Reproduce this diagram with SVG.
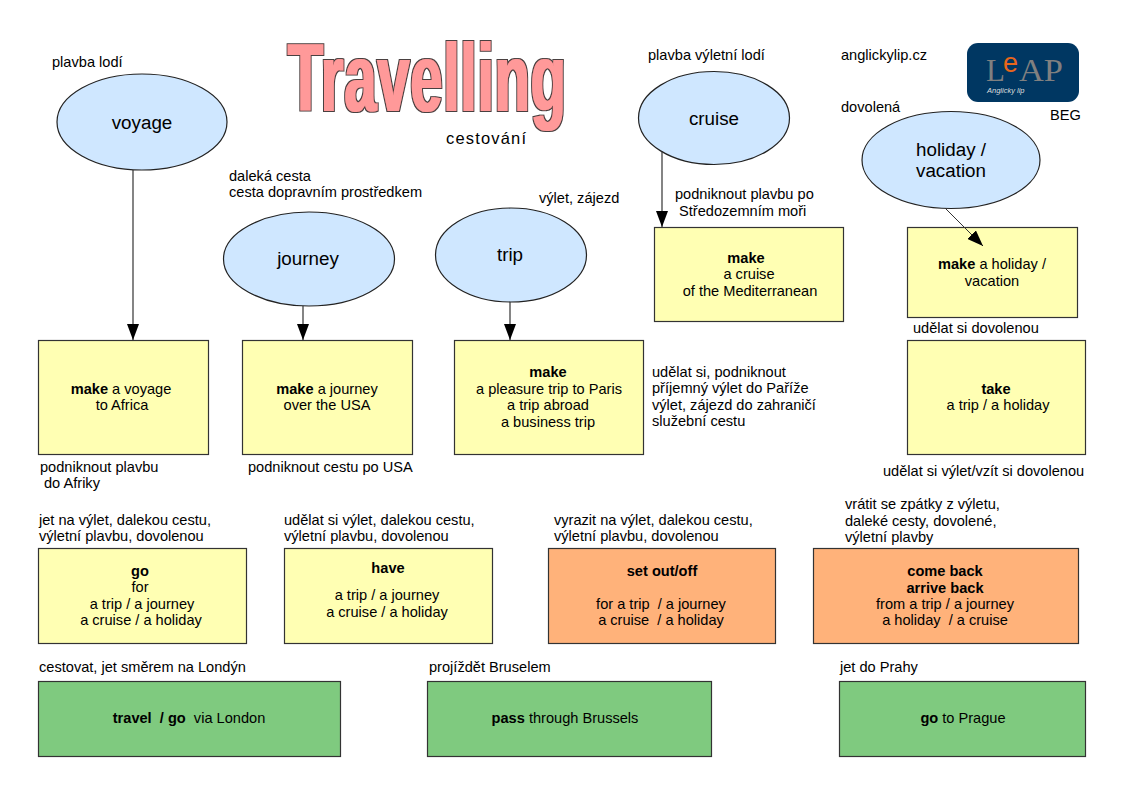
<svg xmlns="http://www.w3.org/2000/svg" width="1123" height="794" viewBox="0 0 1123 794">
<style>
text{font-family:"Liberation Sans",Arial,sans-serif;font-size:14.6px;fill:#000}
.m{text-anchor:middle}
.b{font-weight:bold}
.e{fill:#cfe7ff;stroke:#222;stroke-width:1.2}
.y{fill:#ffffb3;stroke:#333;stroke-width:1.2}
.o{fill:#ffb27a;stroke:#333;stroke-width:1.2}
.g{fill:#7fca7f;stroke:#333;stroke-width:1.2}
.big{font-size:18.800px}
.c{stroke:#333;stroke-width:1.200;fill:none;marker-end:url(#a)}
.s{font-family:"Liberation Serif",serif;font-size:31px;fill:#808080}
</style>
<defs>
<marker id="a" markerUnits="userSpaceOnUse" markerWidth="16" markerHeight="12" refX="16" refY="6" orient="auto"><path d="M0 0L16 6L0 12Z" fill="#000"/></marker>
<filter id="t" x="-3%" y="-5%" width="106%" height="110%">
<feMorphology in="SourceAlpha" operator="dilate" radius="1.700 1" result="o"/>
<feFlood flood-color="#4a4040"/><feComposite in2="o" operator="in" result="d"/>
<feMorphology in="SourceAlpha" operator="dilate" radius="0.800 0.200" result="i"/>
<feFlood flood-color="#ff9999"/><feComposite in2="i" operator="in" result="p"/>
<feMerge><feMergeNode in="d"/><feMergeNode in="p"/></feMerge>
</filter>
</defs>
<rect width="1123" height="794" fill="#fff"/>
<g id="title">
<text x="288" y="111" font-weight="bold" textLength="279" lengthAdjust="spacingAndGlyphs" filter="url(#t)" style="font-size:96px;letter-spacing:2px;fill:#ff9999">Travelling</text>
<text x="446" y="144" textLength="80" style="font-size:16.500px">cestování</text>
</g>
<g id="logo">
<rect x="967" y="43" width="112" height="59" rx="11" fill="#003762"/>
<text class="s" x="986" y="81">L</text>
<text x="1003" y="72" style="font-size:27px;fill:#e8661c">e</text>
<text class="s" x="1019" y="81" textLength="44" lengthAdjust="spacingAndGlyphs">AP</text>
<text x="987" y="93" style="font-size:7.500px;font-style:italic;fill:#ddd">Anglicky lip</text>
</g>
<g id="voyage"><ellipse class="e" cx="142" cy="122" rx="85" ry="48"/><text class="m big" x="142" y="129">voyage</text></g>
<g id="journey"><ellipse class="e" cx="309" cy="259" rx="85.500" ry="47"/><text class="m big" x="308" y="265">journey</text></g>
<g id="trip"><ellipse class="e" cx="511" cy="255" rx="75.500" ry="47"/><text class="m big" x="510" y="261">trip</text></g>
<g id="cruise"><ellipse class="e" cx="714" cy="118" rx="75.500" ry="46.500"/><text class="m big" x="714" y="125">cruise</text></g>
<g id="holiday"><ellipse class="e" cx="951" cy="160" rx="89" ry="48.500"/><text class="m big" x="951" y="156">holiday /</text><text class="m big" x="951" y="177">vacation</text></g>
<g id="make-voyage"><rect class="y" x="38.500" y="340.500" width="170" height="114"/><text class="m" x="121" y="394"><tspan class="b">make</tspan> a voyage</text><text class="m" x="122" y="410">to Africa</text></g>
<g id="make-journey"><rect class="y" x="242.500" y="340.500" width="170" height="114"/><text class="m" x="327" y="394"><tspan class="b">make</tspan> a journey</text><text class="m" x="327" y="410">over the USA</text></g>
<g id="make-trip"><rect class="y" x="454.500" y="340.500" width="189" height="114"/><text class="m b" x="548" y="377">make</text><text class="m" x="549" y="394">a pleasure trip to Paris</text><text class="m" x="548" y="410">a trip abroad</text><text class="m" x="548" y="427">a business trip</text></g>
<g id="make-cruise"><rect class="y" x="654.500" y="227.500" width="189" height="94"/><text class="m b" x="746" y="263">make</text><text class="m" x="749" y="279">a cruise</text><text class="m" x="750" y="296">of the Mediterranean</text></g>
<g id="make-holiday"><rect class="y" x="907.500" y="227.500" width="170" height="90"/><text class="m" x="992" y="269"><tspan class="b">make</tspan> a holiday /</text><text class="m" x="992" y="286">vacation</text></g>
<g id="take"><rect class="y" x="907.500" y="340.500" width="178" height="114"/><text class="m b" x="996" y="394">take</text><text class="m" x="998" y="410">a trip / a holiday</text></g>
<g id="go"><rect class="y" x="38.500" y="548.500" width="208" height="95"/><text class="m b" x="140" y="576">go</text><text class="m" x="140" y="592">for</text><text class="m" x="142" y="609">a trip / a journey</text><text class="m" x="141" y="625">a cruise / a holiday</text></g>
<g id="have"><rect class="y" x="284.500" y="548.500" width="208" height="95"/><text class="m b" x="388" y="573">have</text><text class="m" x="387" y="600">a trip / a journey</text><text class="m" x="387" y="617">a cruise / a holiday</text></g>
<g id="set-out"><rect class="o" x="548.500" y="548.500" width="227" height="95"/><text class="m b" x="662" y="576">set out/off</text><text class="m" x="661" y="609" xml:space="preserve">for a trip  / a journey</text><text class="m" x="661" y="625" xml:space="preserve">a cruise  / a holiday</text></g>
<g id="come-back"><rect class="o" x="813.500" y="548.500" width="265" height="95"/><text class="m b" x="945" y="576">come back</text><text class="m b" x="945" y="593">arrive back</text><text class="m" x="945" y="609">from a trip / a journey</text><text class="m" x="945" y="625" xml:space="preserve">a holiday  / a cruise</text></g>
<g id="travel"><rect class="g" x="38.500" y="681.500" width="302" height="75"/><text class="m" x="189" y="723" xml:space="preserve"><tspan class="b">travel  / go</tspan>  via London</text></g>
<g id="pass"><rect class="g" x="427.500" y="681.500" width="284" height="75"/><text class="m" x="565" y="723"><tspan class="b">pass</tspan> through Brussels</text></g>
<g id="go-prague"><rect class="g" x="839.500" y="681.500" width="246" height="75"/><text class="m" x="963" y="723"><tspan class="b">go</tspan> to Prague</text></g>
<g id="connectors">
<path class="c" d="M133 170V340"/>
<path class="c" d="M303 306V340"/>
<path class="c" d="M510 302V340"/>
<path class="c" d="M662 151V227"/>
<path class="c" style="stroke-width:1" d="M945 208L983 246"/>
</g>
<g id="labels">
<text x="52" y="67">plavba lodí</text>
<text x="648" y="60">plavba výletní lodí</text>
<text x="841" y="60">anglickylip.cz</text>
<text x="841" y="112">dovolená</text>
<text x="1050" y="120">BEG</text>
<text x="229" y="181">daleká cesta</text>
<text x="229" y="197">cesta dopravním prostředkem</text>
<text x="539" y="203">výlet, zájezd</text>
<text x="675" y="199">podniknout plavbu po</text>
<text x="679" y="216">Středozemním moři</text>
<text x="913" y="333">udělat si dovolenou</text>
<text x="652" y="377">udělat si, podniknout</text>
<text x="652" y="393">příjemný výlet do Paříže</text>
<text x="652" y="410">výlet, zájezd do zahraničí</text>
<text x="652" y="426">služební cestu</text>
<text x="40" y="472">podniknout plavbu</text>
<text x="44" y="488">do Afriky</text>
<text x="248" y="472">podniknout cestu po USA</text>
<text x="883" y="476">udělat si výlet/vzít si dovolenou</text>
<text x="39" y="525">jet na výlet, dalekou cestu,</text>
<text x="39" y="541">výletní plavbu, dovolenou</text>
<text x="284" y="525">udělat si výlet, dalekou cestu,</text>
<text x="284" y="541">výletní plavbu, dovolenou</text>
<text x="554" y="525">vyrazit na výlet, dalekou cestu,</text>
<text x="554" y="541">výletní plavbu, dovolenou</text>
<text x="845" y="509">vrátit se zpátky z výletu,</text>
<text x="845" y="526">daleké cesty, dovolené,</text>
<text x="845" y="542">výletní plavby</text>
<text x="39" y="672">cestovat, jet směrem na Londýn</text>
<text x="429" y="672">projíždět Bruselem</text>
<text x="840" y="672">jet do Prahy</text>
</g>
</svg>
